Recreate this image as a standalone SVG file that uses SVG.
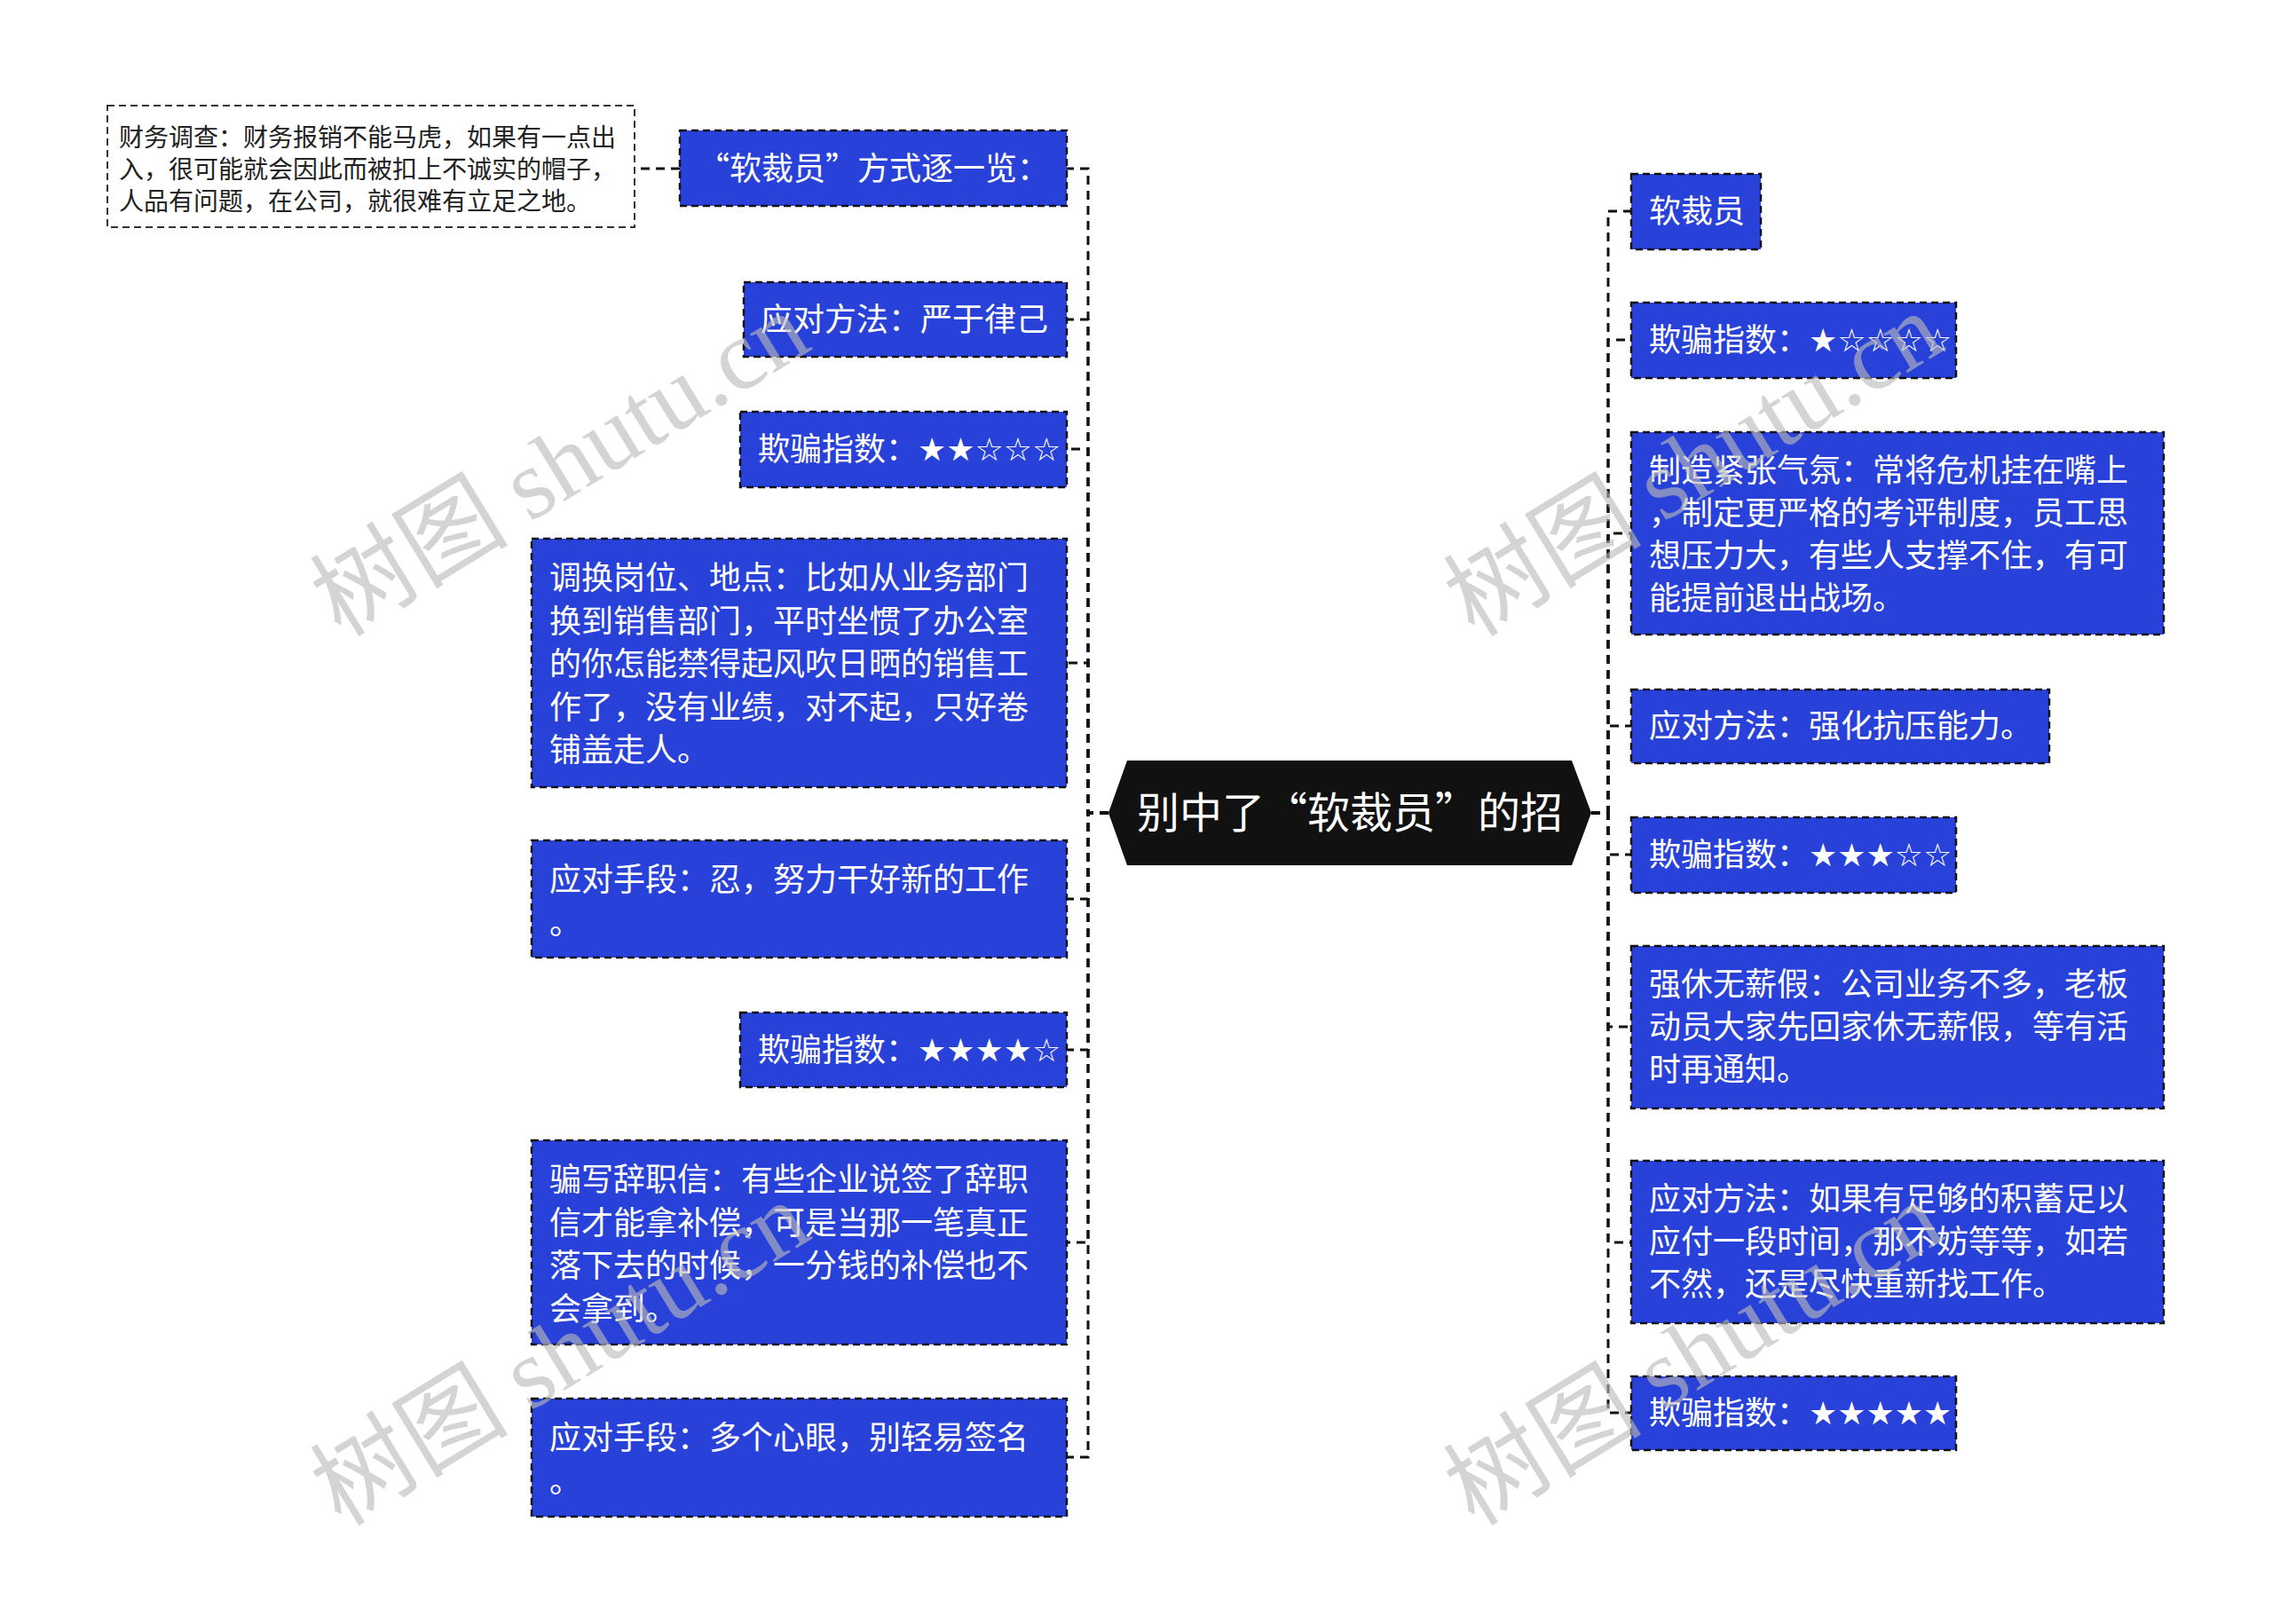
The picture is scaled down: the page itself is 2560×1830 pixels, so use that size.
<svg xmlns="http://www.w3.org/2000/svg" width="2560" height="1830" viewBox="0 0 2560 1830">
<style>
.box{fill:#2841d8;stroke:#111;stroke-width:2.5;stroke-dasharray:8 5}
.note{fill:#fff;stroke:#333;stroke-width:2;stroke-dasharray:8 5}
.t{font-family:"Noto Sans CJK SC","Noto Sans",sans-serif;font-size:36px;fill:#fff}
.nt{font-family:"Noto Sans CJK SC","Noto Sans",sans-serif;font-size:28px;fill:#222}
.st{font-family:"DejaVu Sans",sans-serif}
.ct{font-family:"Noto Sans CJK SC","Noto Sans",sans-serif;font-size:48px;fill:#fff}
.c{fill:none;stroke:#111;stroke-width:3;stroke-dasharray:10 7}
.wm{font-family:"Noto Sans CJK SC","Liberation Serif",serif;font-size:112px;fill:#bbb;opacity:0.62}
</style>
<rect width="2560" height="1830" fill="#fff"/>
<g id="connectors">
<path class="c" d="M1249,916 H1226 V190 H1202"/>
<path class="c" d="M1249,916 H1226 V360 H1202"/>
<path class="c" d="M1249,916 H1226 V506 H1202"/>
<path class="c" d="M1249,916 H1226 V747 H1202"/>
<path class="c" d="M1249,916 H1226 V1013 H1202"/>
<path class="c" d="M1249,916 H1226 V1183 H1202"/>
<path class="c" d="M1249,916 H1226 V1400 H1202"/>
<path class="c" d="M1249,916 H1226 V1642 H1202"/>
<path class="c" d="M1793,916 H1812 V238 H1838"/>
<path class="c" d="M1793,916 H1812 V383 H1838"/>
<path class="c" d="M1793,916 H1812 V601 H1838"/>
<path class="c" d="M1793,916 H1812 V818 H1838"/>
<path class="c" d="M1793,916 H1812 V963 H1838"/>
<path class="c" d="M1793,916 H1812 V1157 H1838"/>
<path class="c" d="M1793,916 H1812 V1400 H1838"/>
<path class="c" d="M1793,916 H1812 V1592 H1838"/>
<path class="c" d="M766,190 H715"/>
</g>
<g id="center">
<polygon points="1249,916 1270,857 1771,857 1793,916 1771,975 1270,975" fill="#111"/>
<text class="ct" x="1521" y="933" text-anchor="middle">别中了“软裁员”的招</text>
</g>
<g id="note">
<rect class="note" x="121" y="119" width="594" height="137"/>
<text class="nt" x="134" y="165">财务调查：财务报销不能马虎，如果有一点出</text>
<text class="nt" x="134" y="201">入，很可能就会因此而被扣上不诚实的帽子，</text>
<text class="nt" x="134" y="237">人品有问题，在公司，就很难有立足之地。</text>
</g>
<g id="l1">
<rect class="box" x="766" y="147" width="436" height="85"/>
<text class="t" x="786" y="203">“软裁员”方式逐一览：</text>
</g>
<g id="l2">
<rect class="box" x="838" y="318" width="364" height="84"/>
<text class="t" x="857" y="373">应对方法：严于律己</text>
</g>
<g id="l3">
<rect class="box" x="834" y="464" width="368" height="85"/>
<text class="t" x="854" y="519">欺骗指数：<tspan class="st">★★☆☆☆</tspan></text>
</g>
<g id="l4">
<rect class="box" x="599" y="607" width="603" height="280"/>
<text class="t" x="619" y="664">调换岗位、地点：比如从业务部门</text>
<text class="t" x="619" y="713">换到销售部门，平时坐惯了办公室</text>
<text class="t" x="619" y="761">的你怎能禁得起风吹日晒的销售工</text>
<text class="t" x="619" y="810">作了，没有业绩，对不起，只好卷</text>
<text class="t" x="619" y="858">铺盖走人。</text>
</g>
<g id="l5">
<rect class="box" x="599" y="947" width="603" height="132"/>
<text class="t" x="619" y="1004">应对手段：忍，努力干好新的工作</text>
<text class="t" x="619" y="1053">。</text>
</g>
<g id="l6">
<rect class="box" x="834" y="1141" width="368" height="84"/>
<text class="t" x="854" y="1196">欺骗指数：<tspan class="st">★★★★☆</tspan></text>
</g>
<g id="l7">
<rect class="box" x="599" y="1285" width="603" height="230"/>
<text class="t" x="619" y="1342">骗写辞职信：有些企业说签了辞职</text>
<text class="t" x="619" y="1391">信才能拿补偿，可是当那一笔真正</text>
<text class="t" x="619" y="1439">落下去的时候，一分钱的补偿也不</text>
<text class="t" x="619" y="1488">会拿到。</text>
</g>
<g id="l8">
<rect class="box" x="599" y="1576" width="603" height="133"/>
<text class="t" x="619" y="1633">应对手段：多个心眼，别轻易签名</text>
<text class="t" x="619" y="1682">。</text>
</g>
<g id="r1">
<rect class="box" x="1838" y="196" width="146" height="85"/>
<text class="t" x="1858" y="251">软裁员</text>
</g>
<g id="r2">
<rect class="box" x="1838" y="341" width="366" height="85"/>
<text class="t" x="1858" y="396">欺骗指数：<tspan class="st">★☆☆☆☆</tspan></text>
</g>
<g id="r3">
<rect class="box" x="1838" y="487" width="600" height="228"/>
<text class="t" x="1858" y="543">制造紧张气氛：常将危机挂在嘴上</text>
<text class="t" x="1858" y="591">，制定更严格的考评制度，员工思</text>
<text class="t" x="1858" y="639">想压力大，有些人支撑不住，有可</text>
<text class="t" x="1858" y="687">能提前退出战场。</text>
</g>
<g id="r4">
<rect class="box" x="1838" y="777" width="471" height="83"/>
<text class="t" x="1858" y="831">应对方法：强化抗压能力。</text>
</g>
<g id="r5">
<rect class="box" x="1838" y="921" width="366" height="85"/>
<text class="t" x="1858" y="976">欺骗指数：<tspan class="st">★★★☆☆</tspan></text>
</g>
<g id="r6">
<rect class="box" x="1838" y="1066" width="600" height="183"/>
<text class="t" x="1858" y="1122">强休无薪假：公司业务不多，老板</text>
<text class="t" x="1858" y="1170">动员大家先回家休无薪假，等有活</text>
<text class="t" x="1858" y="1218">时再通知。</text>
</g>
<g id="r7">
<rect class="box" x="1838" y="1308" width="600" height="183"/>
<text class="t" x="1858" y="1364">应对方法：如果有足够的积蓄足以</text>
<text class="t" x="1858" y="1412">应付一段时间，那不妨等等，如若</text>
<text class="t" x="1858" y="1460">不然，还是尽快重新找工作。</text>
</g>
<g id="r8">
<rect class="box" x="1838" y="1551" width="366" height="83"/>
<text class="t" x="1858" y="1605">欺骗指数：<tspan class="st">★★★★★</tspan></text>
</g>
<g id="watermarks">
<text class="wm" transform="translate(632,525) rotate(-31.5)" text-anchor="middle" y="36">树图 <tspan font-family="Liberation Serif,serif">shutu.cn</tspan></text>
<text class="wm" transform="translate(1909,525) rotate(-31.5)" text-anchor="middle" y="36">树图 <tspan font-family="Liberation Serif,serif">shutu.cn</tspan></text>
<text class="wm" transform="translate(632,1527) rotate(-31.5)" text-anchor="middle" y="36">树图 <tspan font-family="Liberation Serif,serif">shutu.cn</tspan></text>
<text class="wm" transform="translate(1909,1527) rotate(-31.5)" text-anchor="middle" y="36">树图 <tspan font-family="Liberation Serif,serif">shutu.cn</tspan></text>
</g>
</svg>
